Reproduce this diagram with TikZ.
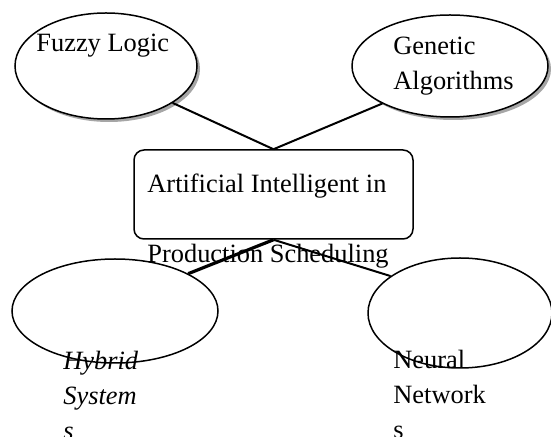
\documentclass[tikz,border=0pt]{standalone}
\usepackage{fontspec}
\setmainfont{Liberation Serif}
\usepackage{tikz}
\usetikzlibrary{shapes.geometric}
\usetikzlibrary{shadows}

\tikzset{
    blob/.style = {draw, ellipse, line width = 0.75pt, inner sep = 0pt, fill = white},
    shade/.style = {drop shadow = {shadow xshift = 1.5pt, shadow yshift = -1.5pt, fill = gray!70, opacity = 1}},
    link/.style = {line width = 1pt},
    txt/.style = {anchor = base west, inner sep = 0pt, align = left, font = \fontsize{13.2}{17.5}\selectfont},
}

\begin{document}
\begin{tikzpicture}[x = 0.5pt, y = -0.5pt]
    \useasboundingbox [fill = white] (0, 0) rectangle (551, 437);
    \foreach \n\x\y\w\h\s in {fuzzy/106/66/91/53/shade, genetic/450/66/98/51/shade, hybrid/115/311/103/52/, neural/460/313/92/55/} {
        \node [blob, \s, minimum width = \w pt, minimum height = \h pt] (\n) at (\x, \y) {};
    }
    \node [draw, rounded corners = 5pt, line width = 0.75pt, minimum width = 139.5pt, minimum height = 44.5pt] (box) at (273.5, 194.5) {};
    \foreach \n\a\t in {fuzzy/-29/1pt, genetic/-151/1pt} {
        \draw [link, line width = \t] (box.north) -- (\n.\a);
    }
    \foreach \n\a\t in {hybrid/27/1.6pt, neural/152/1pt} {
        \draw [link, line width = \t] (box.south) -- (\n.\a);
    }
    \node [txt] (fuzzytxt) at (36, 52) {Fuzzy Logic};
    \node [txt] (genetictxt) at (393, 90) {Genetic\\Algorithms};
    \node [txt, font = \fontsize{13.2}{35}\selectfont] (boxtxt) at (147, 263) {Artificial Intelligent in\\Production Scheduling};
    \node [txt, font = \fontsize{13.2}{17.5}\selectfont\itshape] (hybridtxt) at (63, 440) {Hybrid\\System\\s};
    \node [txt] (neuraltxt) at (393, 439) {Neural\\Network\\s};
\end{tikzpicture}
\end{document}
